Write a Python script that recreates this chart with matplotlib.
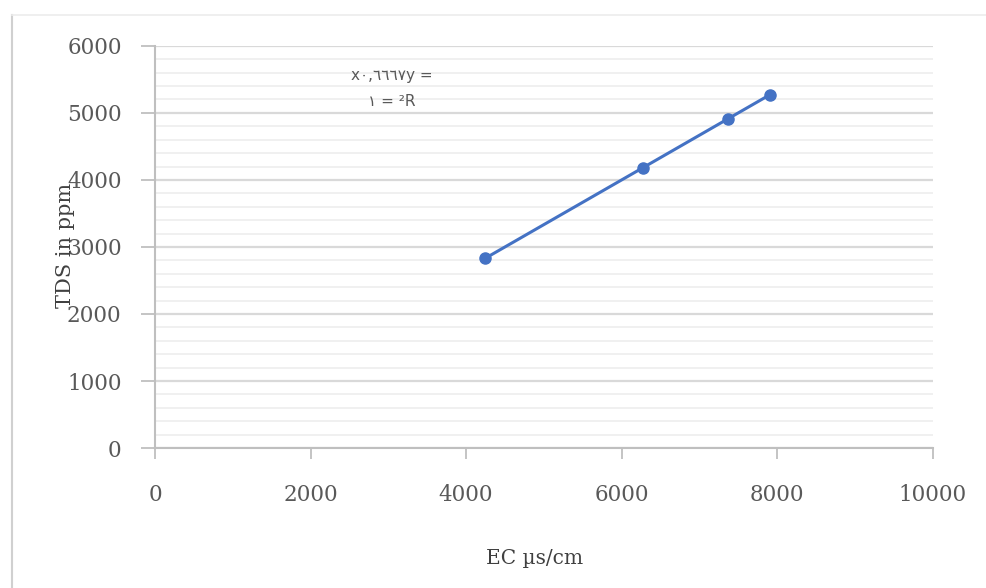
import matplotlib
matplotlib.use("Agg")
import matplotlib.pyplot as plt
from matplotlib.lines import Line2D
from matplotlib.ticker import MultipleLocator

# datos
ec = [4242, 6272, 7365, 7905]
tds = [2828, 4181, 4910, 5270]
x_ticks = [0, 2000, 4000, 6000, 8000, 10000]
y_ticks = [0, 1000, 2000, 3000, 4000, 5000, 6000]
ecuacion = "x٠,٦٦٦٧y ="
r2 = "١ = ²R"

fig = plt.figure(figsize=(9.87, 5.88), dpi=100)
ax = fig.add_axes([0.157, 0.238, 0.788, 0.684])

#Rejilla mayor y menor
ax.yaxis.set_minor_locator(MultipleLocator(200))
ax.grid(axis="y", which="major", color="#d9d9d9", linewidth=1.6)
ax.grid(axis="y", which="minor", color="#f0f0f0", linewidth=1.4)
ax.set_axisbelow(True)

ax.plot(ec, tds, color="#4472C4", linewidth=2.2, marker="o", markersize=8)

ax.set_xlim(0, 10000)
ax.set_ylim(0, 6000)
ax.set_xticks(x_ticks)
ax.set_yticks(y_ticks)
ax.set_xticklabels([str(v) for v in x_ticks], family="DejaVu Serif", fontsize=15.5, color="#595959")
ax.set_yticklabels([str(v) for v in y_ticks], family="DejaVu Serif", fontsize=15.5, color="#595959")
ax.tick_params(axis="y", which="major", length=10, width=1.3, color="#bfbfbf", pad=14)
ax.tick_params(axis="x", which="major", length=8, width=1.3, color="#bfbfbf", pad=18)
ax.tick_params(which="minor", length=0)

for lado in ["top", "right"]:
    ax.spines[lado].set_visible(False)
ax.spines["left"].set_color("#bfbfbf")
ax.spines["bottom"].set_color("#bfbfbf")
ax.spines["left"].set_linewidth(1.5)
ax.spines["bottom"].set_linewidth(1.5)

fig.text(0.542, 0.05, "EC µs/cm", ha="center", va="center",
         family="DejaVu Serif", fontsize=14.5, color="#404040")
fig.text(0.066, 0.582, "TDS in ppm", rotation=90, ha="center", va="center",
         family="DejaVu Serif", fontsize=15, color="#404040")

ax.text(3050, 5560, ecuacion, ha="center", va="center", family="DejaVu Sans", fontsize=11, color="#595959")
ax.text(3050, 5170, r2, ha="center", va="center", family="DejaVu Sans", fontsize=11, color="#595959")

#Marco de la figura
fig.add_artist(Line2D([0.012, 0.012], [0.0, 0.975], color="#d0d0d0", linewidth=1.5))
fig.add_artist(Line2D([0.012, 1.0], [0.975, 0.975], color="#ececec", linewidth=1.2))

fig.savefig("out.png", dpi=100)
